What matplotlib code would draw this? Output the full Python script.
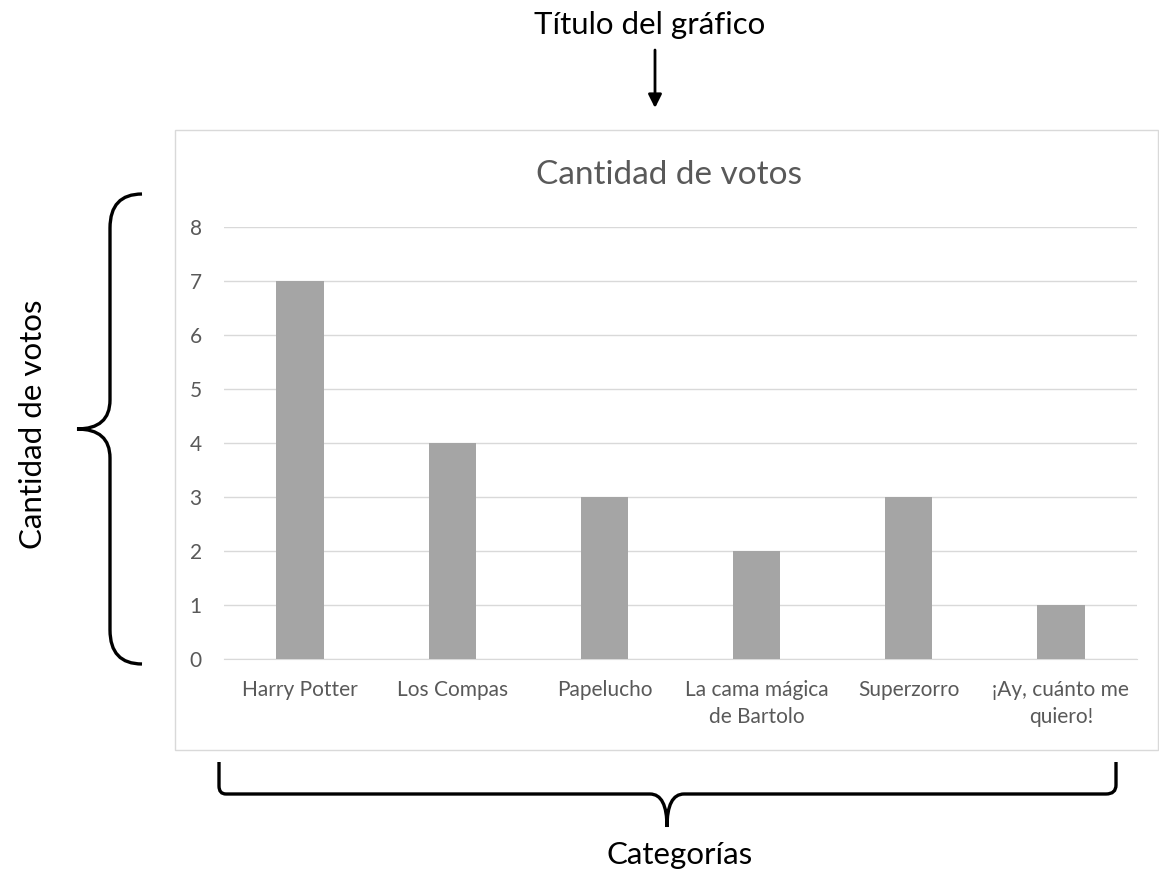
import matplotlib
matplotlib.use("Agg")
import matplotlib.pyplot as plt
from matplotlib.path import Path
from matplotlib.patches import PathPatch, Rectangle

# ── Datos ────────────────────────────────────────────────────────────────────
categorias = ["Harry Potter", "Los Compas", "Papelucho",
              "La cama mágica\nde Bartolo", "Superzorro", "¡Ay, cuánto me\nquiero!"]
votos = [7, 4, 3, 2, 3, 1]
yticks = [0, 1, 2, 3, 4, 5, 6, 7, 8]

W, H = 1159, 875
FONT = ["Lato", "DejaVu Sans"]
GRIS_TXT = "#595959"

plt.rcParams["font.family"] = FONT

fig = plt.figure(figsize=(W / 100, H / 100), dpi=100)


def px(x, y):
    """pixel (desde arriba-izquierda) -> fracción de figura"""
    return (x / W, 1 - y / H)


# ── Ejes ─────────────────────────────────────────────────────────────────────
ax_l, ax_b = px(224, 659)
ax_r, ax_t = px(1137, 227)
ax = fig.add_axes([ax_l, ax_b, ax_r - ax_l, ax_t - ax_b])
ax.set_facecolor("none")

xs = list(range(len(categorias)))
ax.bar(xs, votos, width=0.31, color="#a5a5a5", zorder=3)
ax.set_xlim(-0.5, len(categorias) - 0.5)
ax.set_ylim(0, 8)
ax.set_yticks(yticks)
ax.set_xticks(xs)
ax.set_xticklabels(categorias, fontsize=15, color=GRIS_TXT, linespacing=1.45)
ax.set_yticklabels([str(v) for v in yticks], fontsize=15, color=GRIS_TXT)
ax.tick_params(axis="both", length=0)
ax.tick_params(axis="x", pad=15)
ax.tick_params(axis="y", pad=16)
ax.grid(axis="y", color="#d9d9d9", linewidth=1.0, zorder=0)
for s in ["top", "right", "left"]:
    ax.spines[s].set_visible(False)
ax.spines["bottom"].set_color("#d9d9d9")

fig.text(*px(669, 175), "Cantidad de votos", ha="center", va="center",
         fontsize=24, color=GRIS_TXT)

# ── Anotaciones ──────────────────────────────────────────────────────────────
fig.text(*px(650, 25), "Título del gráfico", ha="center", va="center",
         fontsize=22.5, color="black")
fig.text(*px(680, 855), "Categorías", ha="center", va="center",
         fontsize=22.5, color="black")
fig.text(*px(33, 424), "Cantidad de votos", ha="center", va="center",
         fontsize=22.5, color="black", rotation=90)

ax_arr = fig.add_axes([0, 0, 1, 1], facecolor="none")
ax_arr.set_axis_off()
ax_arr.set_xlim(0, W)
ax_arr.set_ylim(H, 0)

# marco del gráfico
ax_arr.add_patch(Rectangle((175, 130), 983, 620, facecolor="none",
                           edgecolor="#d9d9d9", linewidth=1.0))

ax_arr.annotate("", xy=(655, 108), xytext=(655, 50),
                arrowprops=dict(arrowstyle="-|>", color="black", lw=2.0,
                                mutation_scale=20, shrinkA=0, shrinkB=0))

C3, L2 = Path.CURVE3, Path.LINETO
# llave izquierda
verts_l = [(142, 194), (110, 194), (110, 228), (110, 400),
           (110, 429), (77, 429), (110, 429), (110, 458),
           (110, 630), (110, 664), (142, 664)]
codes_l = [Path.MOVETO, C3, C3, L2, C3, C3, C3, C3, L2, C3, C3]
ax_arr.add_patch(PathPatch(Path(verts_l, codes_l), fill=False, lw=2.4,
                           edgecolor="black"))

# llave inferior
verts_b = [(219, 762), (219, 786), (219, 794), (226, 794), (650, 794),
           (667, 794), (667, 827), (667, 794), (684, 794),
           (1106, 794), (1116, 794), (1116, 785), (1116, 762)]
codes_b = [Path.MOVETO, L2, C3, C3, L2, C3, C3, C3, C3, L2, C3, C3, L2]
ax_arr.add_patch(PathPatch(Path(verts_b, codes_b), fill=False, lw=2.4,
                           edgecolor="black"))

fig.savefig("out.png", dpi=100)
